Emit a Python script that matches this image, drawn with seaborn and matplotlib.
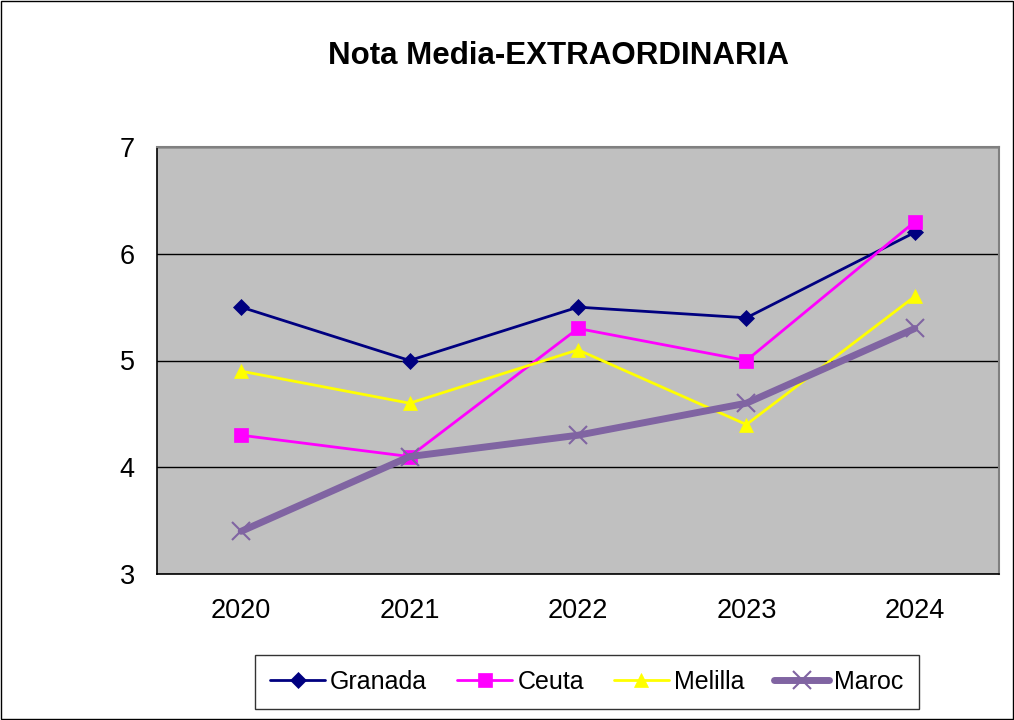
import numpy as np
import pandas as pd
import matplotlib
matplotlib.use('Agg')
import matplotlib.pyplot as plt
import seaborn as sns
from matplotlib.patches import Rectangle

# data
years = ['2020', '2021', '2022', '2023', '2024']
granada = [5.5, 5.0, 5.5, 5.4, 6.2]
ceuta = [4.3, 4.1, 5.3, 5.0, 6.3]
melilla = [4.9, 4.6, 5.1, 4.4, 5.6]
maroc = [3.4, 4.1, 4.3, 4.6, 5.3]

sns.set_style('white')
plt.rcParams['font.family'] = ['Liberation Sans', 'DejaVu Sans']
plt.rcParams['text.color'] = 'black'
plt.rcParams['xtick.color'] = 'black'
plt.rcParams['ytick.color'] = 'black'

fig = plt.figure(figsize=(10.14, 7.2), dpi=100)
ax = fig.add_axes([157/1014, 1 - 574/720, (999-157)/1014, (574-147)/720])
ax.set_facecolor('#C0C0C0')

xpos = np.arange(len(years))
series = [
    ('Granada', granada, '#000080', 'D', 8, 2.0),
    ('Ceuta', ceuta, '#FF00FF', 's', 10, 2.0),
    ('Melilla', melilla, '#FFFF00', '^', 10, 2.0),
    ('Maroc', maroc, '#8064A2', 'x', 13, 5.0),
]
for name, vals, col, mk, ms, lw in series:
    sns.lineplot(x=xpos, y=vals, ax=ax, color=col, marker=mk, markersize=ms,
                 linewidth=lw, markeredgecolor=col, markeredgewidth=1.5 if mk == 'x' else 0.5,
                 label=name, legend=False)

ax.set_xlim(-0.5, 4.5)
ax.set_ylim(3, 7)
ax.set_yticks([3, 4, 5, 6, 7])
ax.yaxis.grid(True, color='black', linewidth=1)
ax.set_axisbelow(True)
ax.set_xticks(xpos)
ax.set_xticklabels(years, fontsize=19.5)
ax.tick_params(axis='x', length=0, pad=17)
ax.set_xticks(np.arange(-0.5, 4.6, 1), minor=True)
ax.tick_params(axis='x', which='minor', length=8, width=1, color='black', direction='out')
ax.tick_params(axis='y', labelsize=19.5, length=8, width=1, color='black', direction='out', pad=8)
ax.set_xlabel('')
ax.set_ylabel('')
for s in ['left', 'bottom']:
    ax.spines[s].set_color('black')
    ax.spines[s].set_linewidth(1.2)
for s in ['right', 'top']:
    ax.spines[s].set_color('#808080')
    ax.spines[s].set_linewidth(1.5)

fig.text(559/1014, 1 - 56/720, 'Nota Media-EXTRAORDINARIA', ha='center', va='center',
         fontsize=22.5, fontweight='bold')

handles, labels = ax.get_legend_handles_labels()
leg = fig.legend(handles, labels, loc='center', bbox_to_anchor=(587/1014, 1 - 682/720),
                 ncol=4, fontsize=18, frameon=True, fancybox=False, edgecolor='black',
                 handlelength=2.2, columnspacing=1.2, handletextpad=0.2, borderpad=0.6)
leg.get_frame().set_linewidth(1)

fig.patches.append(Rectangle((0.001, 0.001), 0.998, 0.998, transform=fig.transFigure,
                             fill=False, edgecolor='black', linewidth=1))

fig.savefig('out.png', dpi=100)
